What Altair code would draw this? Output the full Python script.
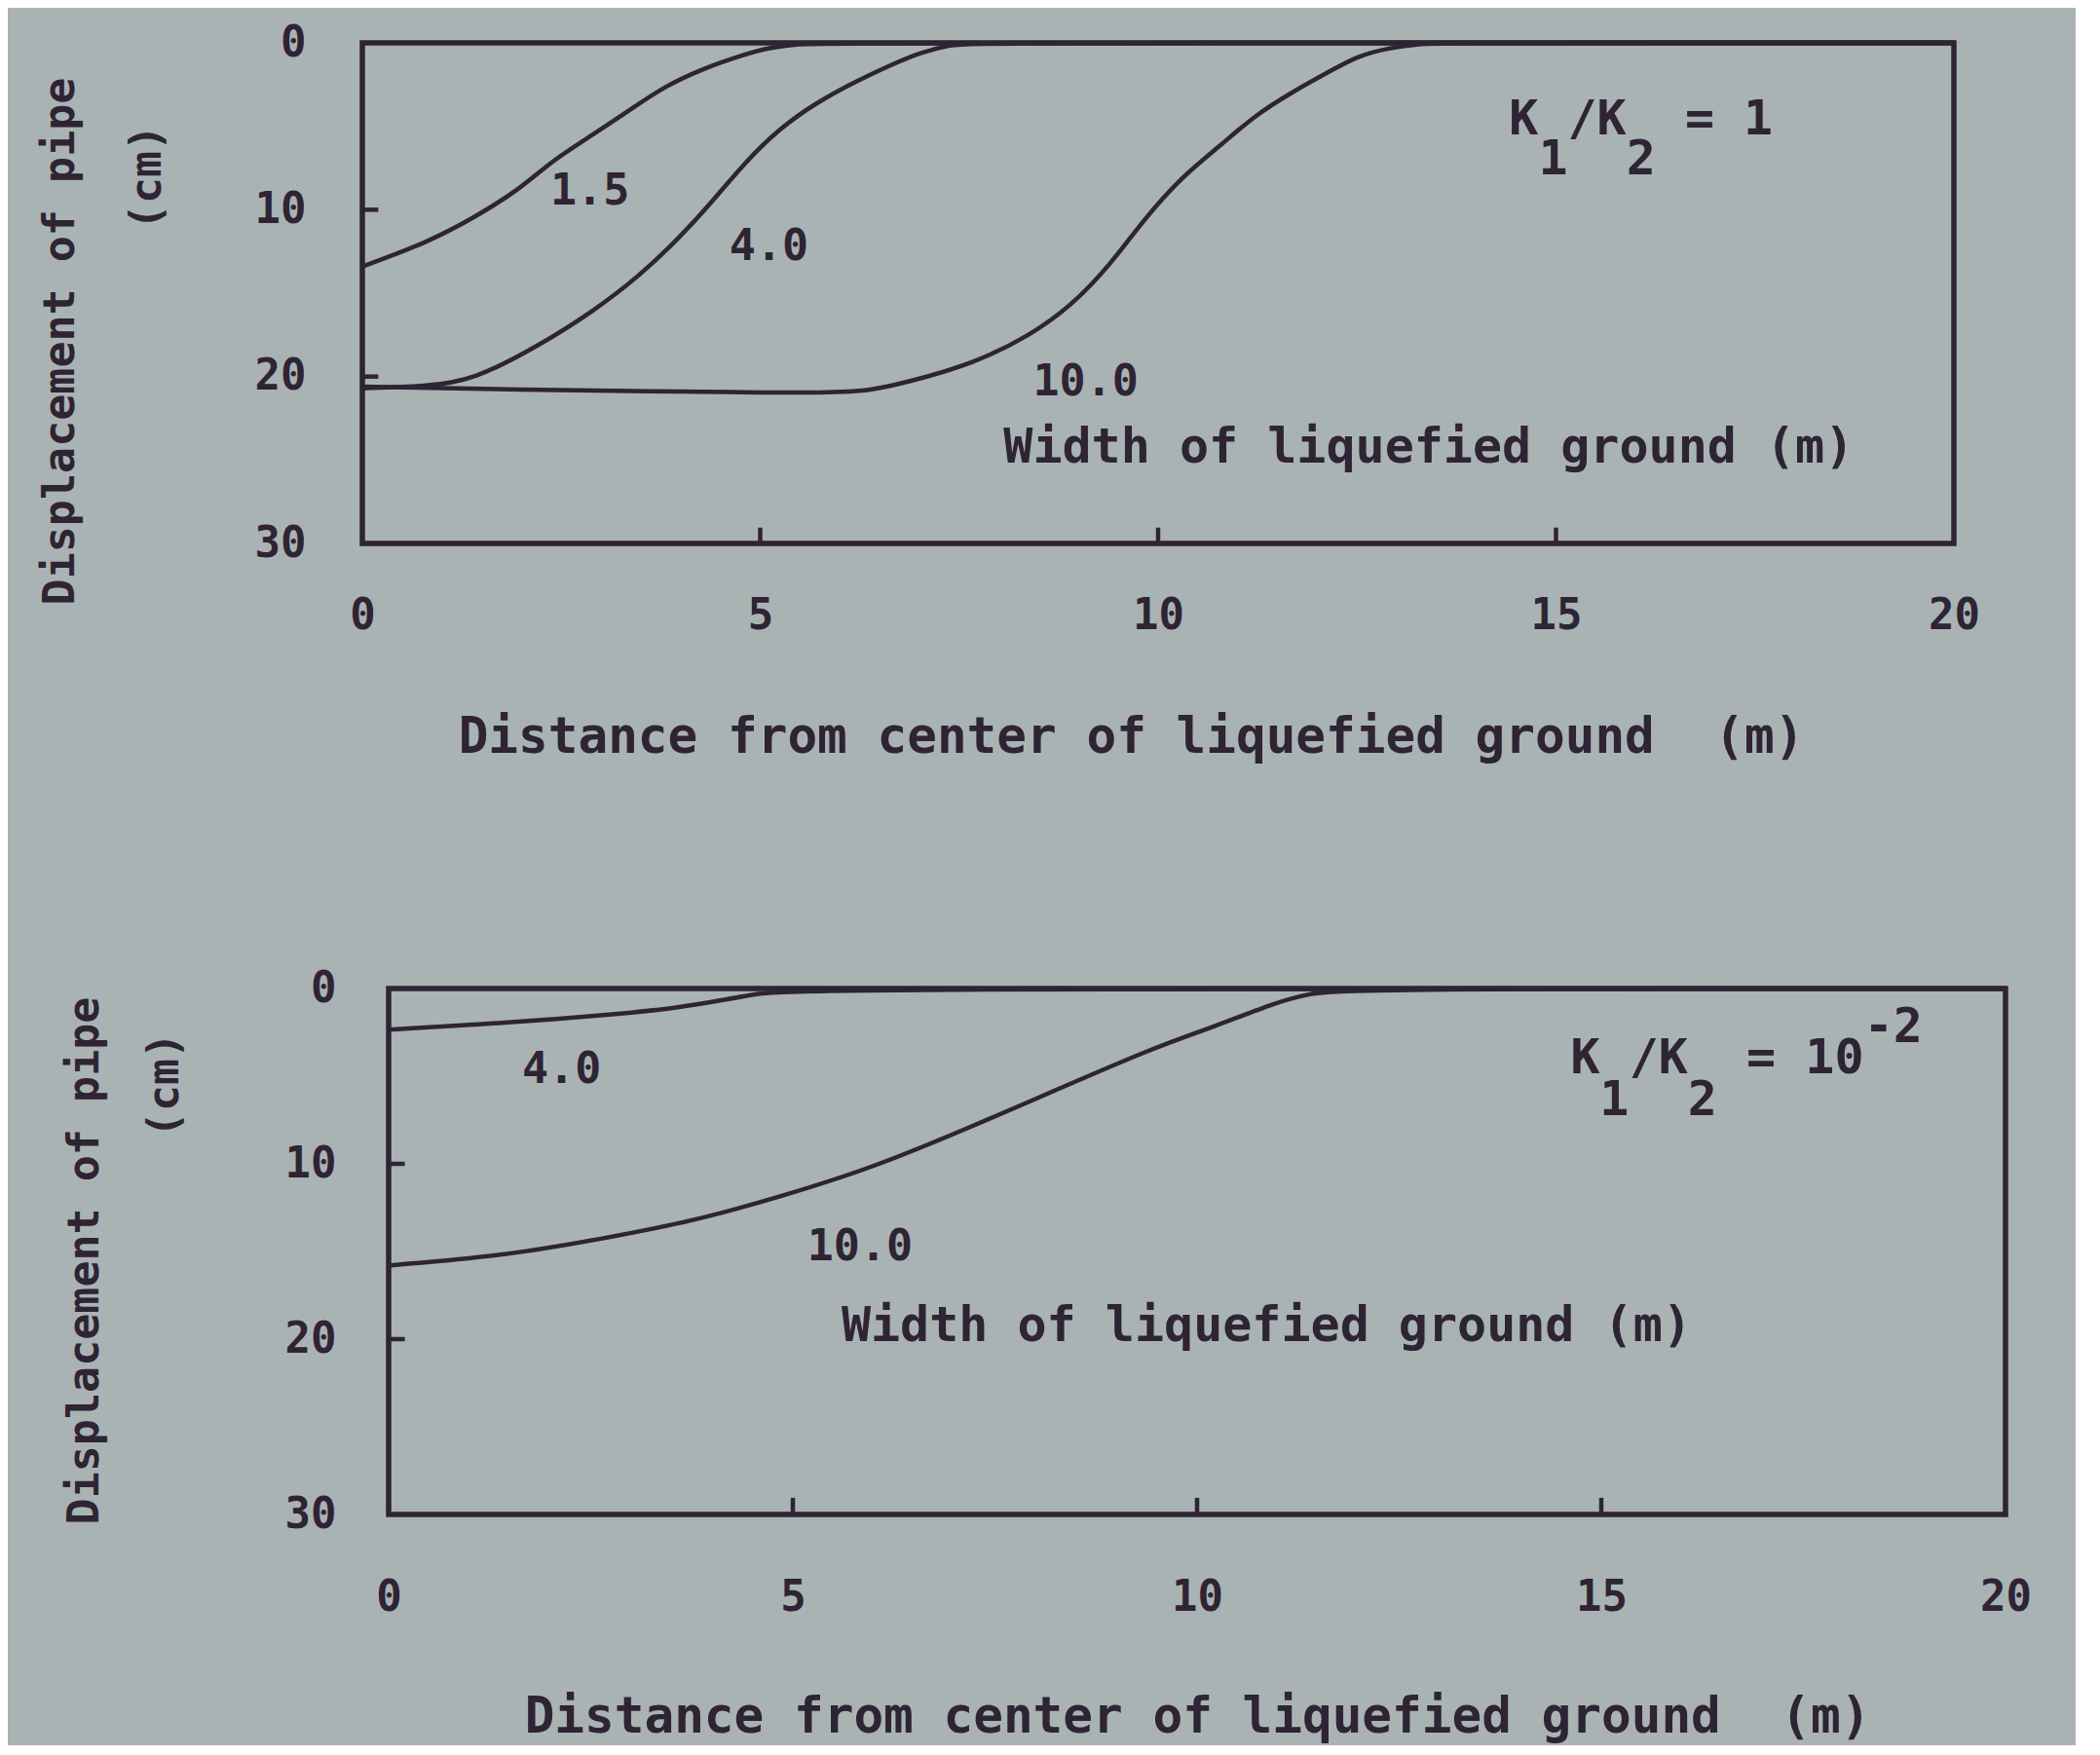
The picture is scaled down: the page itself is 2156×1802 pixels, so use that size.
import altair as alt
import pandas as pd

FONT = "DejaVu Sans Mono"
INK = "#2e2433"
BG = "#aab3b4"
NB = "\u00a0"

# ---------------- data ----------------
# Upper panel: K1/K2 = 1   (distance m, displacement cm)
top_x_15 = [0, 0.8, 1.4, 2.0, 2.4, 2.9, 3.4, 3.8, 4.3, 4.8, 5.1, 5.5, 5.8, 20]
top_y_15 = [13.4, 12.0, 10.5, 8.7, 7.0, 5.5, 3.9, 2.6, 1.5, 0.7, 0.3, 0.05, 0, 0]
top_x_40 = [0, 0.8, 1.4, 2.2, 2.9, 3.5, 4.0, 4.4, 4.8, 5.25, 5.7, 6.2, 6.7, 7.0, 7.4, 7.7, 20]
top_y_40 = [20.7, 20.6, 20.2, 18.2, 16.1, 13.9, 11.6, 9.5, 7.2, 5.1, 3.6, 2.3, 1.2, 0.6, 0.1, 0, 0]
top_x_100 = [0, 2, 4, 6.0, 6.4, 6.8, 7.7, 8.4, 8.9, 9.4, 9.8, 10.3, 10.8, 11.2, 11.7, 12.2, 12.5, 12.9, 13.3, 13.6, 20]
top_y_100 = [20.6, 20.8, 20.9, 21.0, 20.8, 20.4, 19.2, 17.5, 15.8, 13.3, 10.7, 8.0, 6.1, 4.4, 2.9, 1.6, 0.8, 0.3, 0.05, 0, 0]

# Lower panel: K1/K2 = 10^-2
bot_x_40 = [0, 1.5, 2.6, 3.6, 4.2, 4.5, 5.0, 20]
bot_y_40 = [2.35, 1.95, 1.55, 1.1, 0.6, 0.35, 0, 0]
bot_x_100 = [0, 1.5, 2.6, 3.75, 4.9, 6.0, 7.2, 8.3, 9.45, 10.2, 11.0, 11.35, 11.8, 20]
bot_y_100 = [15.8, 15.2, 14.3, 13.3, 11.8, 10.2, 7.9, 5.7, 3.4, 2.2, 0.75, 0.34, 0, 0]

# curve labels
top_lab_text = ["1.5", "4.0", "10.0"]
top_lab_x = [2.86, 5.11, 9.09]
top_lab_y = [8.9, 12.2, 20.3]
bot_lab_text = ["4.0", "10.0"]
bot_lab_x = [2.14, 5.83]
bot_lab_y = [4.6, 14.7]

width_note = "Width of liquefied ground (m)"
top_note_xy = (13.4, 24.3)
bot_note_xy = (10.86, 19.3)

# "K1/K2 = 1" and "K1/K2 = 10^-2": main line, subscript line and superscript line
top_ratio_text = ["K" + NB + "/K" + NB + NB + "=" + NB + "1", "1" + NB + NB + "2"]
top_ratio_x = [14.41, 14.78]
top_ratio_y = [4.6, 7.0]
bot_ratio_text = ["K" + NB + "/K" + NB + NB + "=" + NB + "10", "1" + NB + NB + "2", "-2"]
bot_ratio_x = [14.62, 14.98, 18.25]
bot_ratio_y = [4.0, 6.4, 2.2]

x_tick_values = [0, 5, 10, 15, 20]
y_tick_values = [0, 10, 20, 30]
x_inner_ticks = [5, 10, 15]
y_inner_ticks = [10, 20]

x_title = "Distance from center of liquefied ground" + NB + " (m)"
y_title = "Displacement of pipe"
y_unit = "(cm)"


def curves(series):
    rows = []
    for lab, xs, ys in series:
        for i, (x, y) in enumerate(zip(xs, ys)):
            rows.append({"w": lab, "x": x, "y": y, "i": i})
    return pd.DataFrame(rows)


def panel(df, labels, note_xy, ratio_parts, w, h, x_range, xlabpad, xtitlepad,
          ylabpad, title_x, title_y, unit_x, unit_y, xtitle_x=None):
    if x_range is None:
        xs = alt.Scale(domain=[0, 20], nice=False, zero=False)
    else:
        xs = alt.Scale(domain=[0, 20], nice=False, zero=False, range=x_range)
    ys = alt.Scale(domain=[0, 30], reverse=True, nice=False, zero=False)
    xaxis_kw = dict(values=x_tick_values, ticks=False, domain=False, grid=False,
                    labelPadding=xlabpad, title=x_title, titlePadding=xtitlepad,
                    labelFlush=False, format="d", titleFontSize=51)
    if xtitle_x is not None:
        xaxis_kw["titleX"] = xtitle_x
    xaxis = alt.Axis(**xaxis_kw)
    yaxis = alt.Axis(values=y_tick_values, ticks=False, domain=False, grid=False,
                     labelPadding=ylabpad, title=y_title, titleX=title_x, titleY=title_y,
                     titleAngle=270, titleAlign="center", titleBaseline="middle",
                     labelFlush=False, format="d", titleFontSize=45)

    lines = alt.Chart(df).mark_line(
        color=INK, strokeWidth=4.5, interpolate="basis"
    ).encode(
        x=alt.X("x:Q", scale=xs, axis=xaxis),
        y=alt.Y("y:Q", scale=ys, axis=yaxis),
        detail="w:N",
        order="i:Q",
    )

    frame = alt.Chart(pd.DataFrame({"a": [0]})).mark_rect(
        fillOpacity=0, stroke=INK, strokeWidth=5.5
    ).encode(x=alt.datum(0), x2=alt.datum(20), y=alt.datum(0), y2=alt.datum(30))

    labs = alt.Chart(pd.DataFrame(labels)).mark_text(
        font=FONT, fontSize=45, fontWeight="bold", color=INK, align="center", baseline="middle"
    ).encode(x=alt.X("x:Q", scale=xs), y=alt.Y("y:Q", scale=ys), text="t:N")

    note = alt.Chart(pd.DataFrame([{"x": note_xy[0], "y": note_xy[1], "t": width_note}])).mark_text(
        font=FONT, fontSize=50, fontWeight="bold", color=INK, align="center", baseline="middle"
    ).encode(x=alt.X("x:Q", scale=xs), y=alt.Y("y:Q", scale=ys), text="t:N")

    rat = alt.Chart(pd.DataFrame(ratio_parts)).mark_text(
        font=FONT, fontSize=50, fontWeight="bold", color=INK, align="left", baseline="middle"
    ).encode(x=alt.X("x:Q", scale=xs), y=alt.Y("y:Q", scale=ys), text="t:N")

    xt = alt.Chart(pd.DataFrame({"v": x_inner_ticks})).mark_rule(
        color=INK, strokeWidth=4.5
    ).encode(x=alt.X("v:Q", scale=xs), y=alt.datum(30), y2=alt.datum(29.05))

    yt = alt.Chart(pd.DataFrame({"v": y_inner_ticks})).mark_rule(
        color=INK, strokeWidth=4.5
    ).encode(y=alt.Y("v:Q", scale=ys), x=alt.datum(0), x2=alt.datum(0.2))

    unit = alt.Chart(pd.DataFrame([{"t": y_unit}])).mark_text(
        font=FONT, fontSize=45, fontWeight="bold", color=INK, angle=270,
        align="center", baseline="middle"
    ).encode(x=alt.value(unit_x), y=alt.value(unit_y), text="t:N")

    return alt.layer(frame, lines, xt, yt, labs, note, rat, unit).properties(width=w, height=h)


top_df = curves([("1.5", top_x_15, top_y_15), ("4.0", top_x_40, top_y_40),
                 ("10.0", top_x_100, top_y_100)])
bot_df = curves([("4.0", bot_x_40, bot_y_40), ("10.0", bot_x_100, bot_y_100)])

top_labels = {"x": top_lab_x, "y": top_lab_y, "t": top_lab_text}
bot_labels = {"x": bot_lab_x, "y": bot_lab_y, "t": bot_lab_text}
top_ratio = {"x": top_ratio_x, "y": top_ratio_y, "t": top_ratio_text}
bot_ratio = {"x": bot_ratio_x, "y": bot_ratio_y, "t": bot_ratio_text}

top = panel(top_df, top_labels, top_note_xy, top_ratio,
            1634, 514, None, 52, 78, 58, -311, 306, -221, 138, xtitle_x=789)
bot = panel(bot_df, bot_labels, bot_note_xy, bot_ratio,
            1687, 540, [27, 1687], 63, 76, 27, -286, 279, -203, 99)

chart = alt.vconcat(top, bot, spacing=211).resolve_scale(
    x="independent", y="independent"
).properties(
    background=BG,
    padding={"left": 31, "top": 14, "right": 45, "bottom": 4},
).configure_view(
    strokeWidth=0
).configure_axis(
    labelFont=FONT, labelFontSize=44, labelColor=INK, labelFontWeight="bold",
    titleFont=FONT, titleFontWeight="bold", titleColor=INK,
).configure_concat(spacing=211)

chart.save("out.html", embed_options={"renderer": "svg", "actions": False})
